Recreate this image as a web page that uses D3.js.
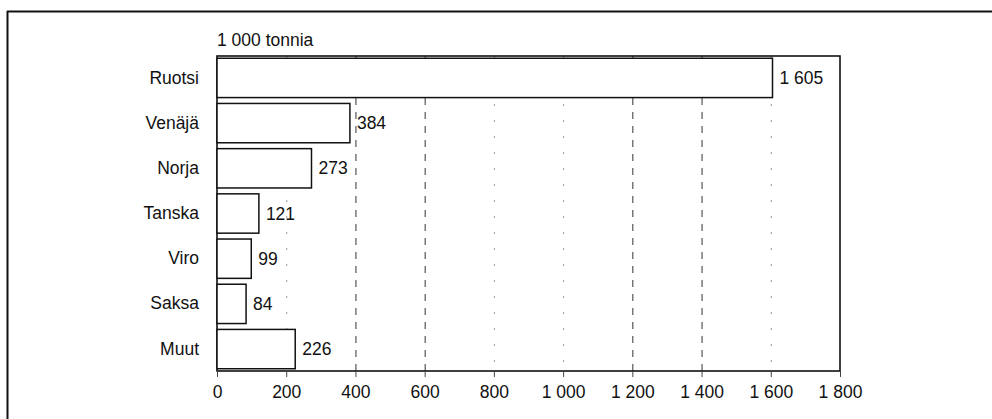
<!DOCTYPE html>
<html><head><meta charset="utf-8">
<script src="https://cdn.jsdelivr.net/npm/d3@7"></script>
<style>body{margin:0;background:#fff}svg{display:block}text{font-family:"Liberation Sans",Arial,sans-serif;fill:#111}</style>
</head><body><svg id="c" width="992" height="419"></svg>
<script>
const categories = ["Ruotsi","Venäjä","Norja","Tanska","Viro","Saksa","Muut"];
const values = [1605,384,273,121,99,84,226];
const valueLabels = ["1 605","384","273","121","99","84","226"];
const tickValues = [0,200,400,600,800,1000,1200,1400,1600,1800];
const tickLabels = ["0","200","400","600","800","1 000","1 200","1 400","1 600","1 800"];
const unitLabel = "1 000 tonnia";

const FS = 17.5;
const svg = d3.select("#c");
const L=217, R=840, T=56, B=371;
const x = d3.scaleLinear().domain([0,1800]).range([L,R]);
const y = d3.scaleBand().domain(categories).range([T,B]).paddingInner(0.13).paddingOuter(0.05);

// outer frame (top and left only)
svg.append("line").attr("x1",7).attr("x2",992).attr("y1",11.5).attr("y2",11.5).attr("stroke","#111").attr("stroke-width",2);
svg.append("line").attr("x1",7.5).attr("x2",7.5).attr("y1",11).attr("y2",419).attr("stroke","#111").attr("stroke-width",2);

// gridlines
const strong = new Set([400,600,1200,1400]);
svg.append("g").selectAll("line").data(tickValues.filter(d=>d>0&&d<1800)).join("line")
  .attr("x1",d=>x(d)+0.5).attr("x2",d=>x(d)+0.5).attr("y1",T).attr("y2",B)
  .attr("stroke",d=>strong.has(d)?"#333":"#999")
  .attr("stroke-width",1)
  .attr("stroke-dasharray",d=>strong.has(d)?"7,7":"2,14");

// plot box
svg.append("rect").attr("x",L).attr("y",T).attr("width",R-L).attr("height",B-T)
  .attr("fill","none").attr("stroke","#111").attr("stroke-width",1.6);

// bars
svg.append("g").selectAll("rect").data(values).join("rect")
  .attr("x",x(0)).attr("y",(d,i)=>y(categories[i]))
  .attr("width",d=>x(d)-x(0)).attr("height",y.bandwidth())
  .attr("fill","#fff").attr("stroke","#111").attr("stroke-width",1.5);

// value labels
svg.append("g").selectAll("text").data(values).join("text")
  .attr("x",d=>x(d)+7).attr("y",(d,i)=>y(categories[i])+y.bandwidth()/2)
  .attr("dy","0.35em").attr("font-size",FS).text((d,i)=>valueLabels[i]);

// y axis labels
const ya = svg.append("g").attr("transform",`translate(${L},0)`)
  .call(d3.axisLeft(y).tickSize(0).tickPadding(18));
ya.select(".domain").remove();
ya.selectAll("text").attr("font-size",FS).style("font-family","Liberation Sans, Arial, sans-serif").attr("fill","#111");

// x axis
const xa = svg.append("g").attr("transform",`translate(0,${B})`)
  .call(d3.axisBottom(x).tickValues(tickValues).tickSize(6).tickPadding(9).tickFormat((d,i)=>tickLabels[i]));
xa.select(".domain").remove();
xa.selectAll("line").attr("stroke","#444");
xa.selectAll("text").attr("font-size",FS).style("font-family","Liberation Sans, Arial, sans-serif").attr("fill","#111");

// unit label
svg.append("text").attr("x",L).attr("y",T-10).attr("font-size",FS).text(unitLabel);
</script></body></html>
